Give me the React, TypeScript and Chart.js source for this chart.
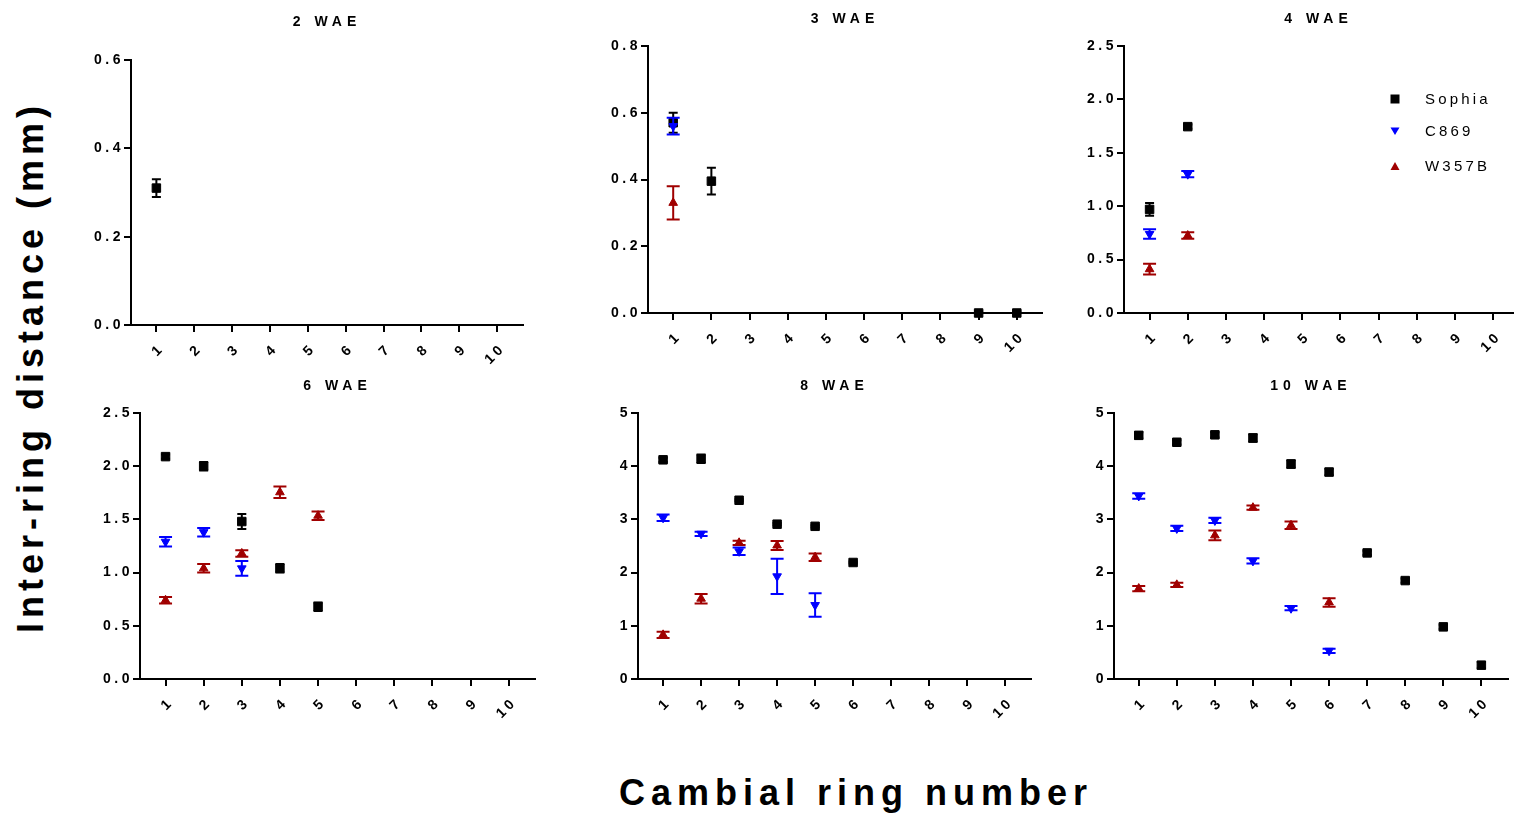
import React, { useEffect, useRef } from 'react';
import { Chart, registerables } from 'chart.js';

Chart.register(...registerables);

const N = null;

// x categories (cambial ring number) — also the x tick labels
const RINGS = ['1', '2', '3', '4', '5', '6', '7', '8', '9', '10'];
const SERIES = ['Sophia', 'C869', 'W357B'];

// y tick labels per panel
const Y_LABELS_2WAE = ['0.0', '0.2', '0.4', '0.6'];
const Y_LABELS_3WAE = ['0.0', '0.2', '0.4', '0.6', '0.8'];
const Y_LABELS_4WAE = ['0.0', '0.5', '1.0', '1.5', '2.0', '2.5'];
const Y_LABELS_6WAE = ['0.0', '0.5', '1.0', '1.5', '2.0', '2.5'];
const Y_LABELS_8WAE = ['0', '1', '2', '3', '4', '5'];
const Y_LABELS_10WAE = ['0', '1', '2', '3', '4', '5'];

// 2 WAE
const SOPHIA_2WAE = [0.31];
const SOPHIA_2WAE_ERR = [0.02];
const C869_2WAE: (number | null)[] = [];
const C869_2WAE_ERR: (number | null)[] = [];
const W357B_2WAE: (number | null)[] = [];
const W357B_2WAE_ERR: (number | null)[] = [];

// 3 WAE
const SOPHIA_3WAE = [0.57, 0.395, N, N, N, N, N, N, 0, 0];
const SOPHIA_3WAE_ERR = [0.03, 0.04, N, N, N, N, N, N, 0.005, 0.005];
const C869_3WAE = [0.56];
const C869_3WAE_ERR = [0.025];
const W357B_3WAE = [0.33];
const W357B_3WAE_ERR = [0.05];

// 4 WAE
const SOPHIA_4WAE = [0.97, 1.745];
const SOPHIA_4WAE_ERR = [0.06, 0.02];
const C869_4WAE = [0.74, 1.3];
const C869_4WAE_ERR = [0.045, 0.03];
const W357B_4WAE = [0.41, 0.725];
const W357B_4WAE_ERR = [0.05, 0.03];

// 6 WAE
const SOPHIA_6WAE = [2.09, 2.0, 1.48, 1.04, 0.68];
const SOPHIA_6WAE_ERR = [0.02, 0.04, 0.07, 0.04, 0.04];
const C869_6WAE = [1.29, 1.38, 1.04];
const C869_6WAE_ERR = [0.045, 0.04, 0.07];
const W357B_6WAE = [0.74, 1.04, 1.18, 1.755, 1.535];
const W357B_6WAE_ERR = [0.03, 0.04, 0.03, 0.055, 0.04];

// 8 WAE
const SOPHIA_8WAE = [4.12, 4.14, 3.36, 2.91, 2.87, 2.19];
const SOPHIA_8WAE_ERR = [0.04, 0.08, 0.02, 0.02, 0.02, 0.02];
const C869_8WAE = [3.03, 2.73, 2.4, 1.93, 1.39];
const C869_8WAE_ERR = [0.06, 0.04, 0.07, 0.33, 0.22];
const W357B_8WAE = [0.83, 1.51, 2.56, 2.51, 2.29];
const W357B_8WAE_ERR = [0.06, 0.09, 0.04, 0.085, 0.07];

// 10 WAE
const SOPHIA_10WAE = [4.58, 4.45, 4.59, 4.53, 4.04, 3.89, 2.37, 1.85, 0.98, 0.26];
const SOPHIA_10WAE_ERR = [0.06, 0.04, 0.05, 0.07, 0.07, 0.06, 0.04, 0.04, 0.04, 0.06];
const C869_10WAE = [3.44, 2.83, 2.98, 2.22, 1.33, 0.53];
const C869_10WAE_ERR = [0.05, 0.05, 0.05, 0.05, 0.04, 0.04];
const W357B_10WAE = [1.7, 1.77, 2.7, 3.22, 2.89, 1.44];
const W357B_10WAE_ERR = [0.05, 0.04, 0.09, 0.04, 0.07, 0.08];

const COLORS = ['#000000', '#0000ff', '#a00000'];
const FONT = '"Liberation Sans", Arial, Helvetica, sans-serif';

type PanelCfg = {
  title: string;
  yLabels: string[];
  series: [(number | null)[], (number | null)[]][];
  L: number; T: number; R: number; B: number; titleY: number;
  xMin: number; xMax: number;
  legend?: boolean;
};

const PANELS: PanelCfg[] = [
  { title: '2 WAE', yLabels: Y_LABELS_2WAE, series: [[SOPHIA_2WAE, SOPHIA_2WAE_ERR], [C869_2WAE, C869_2WAE_ERR], [W357B_2WAE, W357B_2WAE_ERR]],
    L: 131, T: 60, R: 529, B: 325, titleY: 22, xMin: 0.33, xMax: 10.68 },
  { title: '3 WAE', yLabels: Y_LABELS_3WAE, series: [[SOPHIA_3WAE, SOPHIA_3WAE_ERR], [C869_3WAE, C869_3WAE_ERR], [W357B_3WAE, W357B_3WAE_ERR]],
    L: 648, T: 46, R: 1048, B: 313, titleY: 19.5, xMin: 0.34, xMax: 10.66 },
  { title: '4 WAE', yLabels: Y_LABELS_4WAE, series: [[SOPHIA_4WAE, SOPHIA_4WAE_ERR], [C869_4WAE, C869_4WAE_ERR], [W357B_4WAE, W357B_4WAE_ERR]],
    L: 1124, T: 46, R: 1519, B: 313, titleY: 19.5, xMin: 0.33, xMax: 10.52, legend: true },
  { title: '6 WAE', yLabels: Y_LABELS_6WAE, series: [[SOPHIA_6WAE, SOPHIA_6WAE_ERR], [C869_6WAE, C869_6WAE_ERR], [W357B_6WAE, W357B_6WAE_ERR]],
    L: 140, T: 413, R: 541, B: 679, titleY: 386.5, xMin: 0.33, xMax: 10.69 },
  { title: '8 WAE', yLabels: Y_LABELS_8WAE, series: [[SOPHIA_8WAE, SOPHIA_8WAE_ERR], [C869_8WAE, C869_8WAE_ERR], [W357B_8WAE, W357B_8WAE_ERR]],
    L: 638, T: 413, R: 1037, B: 679, titleY: 386.5, xMin: 0.34, xMax: 10.68 },
  { title: '10 WAE', yLabels: Y_LABELS_10WAE, series: [[SOPHIA_10WAE, SOPHIA_10WAE_ERR], [C869_10WAE, C869_10WAE_ERR], [W357B_10WAE, W357B_10WAE_ERR]],
    L: 1114, T: 413, R: 1514, B: 679, titleY: 386.5, xMin: 0.35, xMax: 10.7 },
];

const WY = 70; // y axis box width
const HX = 50; // x axis box height
const PT = 48; // top padding (title room)
const PR = 1;

const CAP_HALF = [4.5, 6.5, 6.5];

function drawMarker(ctx: CanvasRenderingContext2D, k: number, x: number, y: number) {
  ctx.fillStyle = COLORS[k];
  ctx.beginPath();
  if (k === 0) {
    ctx.rect(x - 4.5, y - 4.5, 9, 9);
  } else if (k === 1) {
    ctx.moveTo(x - 4.5, y - 3.5);
    ctx.lineTo(x + 4.5, y - 3.5);
    ctx.lineTo(x, y + 4);
    ctx.closePath();
  } else {
    ctx.moveTo(x - 4.5, y + 4);
    ctx.lineTo(x + 4.5, y + 4);
    ctx.lineTo(x, y - 4);
    ctx.closePath();
  }
  ctx.fill();
}

function Panel({ cfg }: { cfg: PanelCfg }) {
  const ref = useRef<HTMLCanvasElement>(null);
  const left = cfg.L - WY;
  const top = cfg.T - PT;
  const w = cfg.R - cfg.L + WY + PR;
  const h = cfg.B - cfg.T + PT + HX;

  useEffect(() => {
    const canvas = ref.current!;
    const yVals = cfg.yLabels.map(Number);
    const datasets = cfg.series.map(([vals, errs], k) => {
      const pts: any[] = [];
      vals.forEach((v, i) => {
        if (v !== null && v !== undefined) pts.push({ x: Number(RINGS[i]), y: v, e: errs[i] ?? 0 });
      });
      return {
        label: SERIES[k],
        data: pts,
        order: 3 - k,
        clip: false as any,
        showLine: false,
        backgroundColor: COLORS[k],
        borderColor: COLORS[k],
        pointBackgroundColor: COLORS[k],
        pointBorderColor: COLORS[k],
        pointBorderWidth: 1,
        pointStyle: k === 0 ? 'rect' : 'triangle',
        pointRotation: k === 1 ? 180 : 0,
        pointRadius: k === 0 ? 6 : 5,
      };
    });

    const errorBars = {
      id: 'errorBars',
      afterDatasetDraw(chart: any, args: any) {
        const ds = chart.data.datasets[args.index];
        const k = SERIES.indexOf(ds.label);
        const xs = chart.scales.x;
        const ys = chart.scales.y;
        const ctx = chart.ctx;
        ctx.save();
        ctx.strokeStyle = COLORS[k];
        ctx.lineWidth = 2;
        ds.data.forEach((p: any) => {
          if (!p.e) return;
          const x = xs.getPixelForValue(p.x);
          const y1 = ys.getPixelForValue(p.y + p.e);
          const y2 = ys.getPixelForValue(Math.max(0, p.y - p.e));
          const c = CAP_HALF[k];
          ctx.beginPath();
          ctx.moveTo(x, y1); ctx.lineTo(x, y2);
          ctx.moveTo(x - c, y1); ctx.lineTo(x + c, y1);
          ctx.moveTo(x - c, y2); ctx.lineTo(x + c, y2);
          ctx.stroke();
        });
        ctx.restore();
      },
    };

    const decor = {
      id: 'decor',
      beforeDraw(chart: any) {
        (chart.ctx as any).letterSpacing = '3.5px';
      },
      afterDraw(chart: any) {
        const ctx = chart.ctx;
        const ca = chart.chartArea;
        ctx.save();
        (ctx as any).letterSpacing = '5px';
        ctx.fillStyle = '#000';
        ctx.font = `bold 14px ${FONT}`;
        ctx.textAlign = 'center';
        ctx.textBaseline = 'middle';
        ctx.fillText(cfg.title, (ca.left + ca.right) / 2, cfg.titleY - top);
        if (cfg.legend) {
          const rows = [53, 85, 120];
          (ctx as any).letterSpacing = '3.2px';
          ctx.font = `15px ${FONT}`;
          ctx.textAlign = 'left';
          SERIES.forEach((name, k) => {
            const y = ca.top + rows[k];
            drawMarker(ctx, k, ca.left + 271, y);
            ctx.fillStyle = '#000';
            ctx.fillText(name, ca.left + 301, y + 1);
          });
        }
        ctx.restore();
      },
    };

    const tickFont = { family: FONT, size: 14, weight: 'bold' as const };
    const chart = new Chart(canvas, {
      type: 'scatter',
      data: { datasets: datasets as any },
      options: {
        responsive: false,
        animation: false,
        events: [],
        layout: { padding: { top: PT, left: 0, right: PR, bottom: 0 } },
        plugins: { legend: { display: false }, tooltip: { enabled: false }, title: { display: false } },
        scales: {
          x: {
            type: 'linear',
            min: cfg.xMin,
            max: cfg.xMax,
            afterBuildTicks: (s: any) => { s.ticks = RINGS.map((l) => ({ value: Number(l) })); },
            afterFit: (s: any) => { s.height = HX; s.paddingLeft = 0; s.paddingRight = 0; },
            grid: { display: true, drawOnChartArea: false, drawTicks: true, tickLength: 7, tickWidth: 2, tickColor: '#000', lineWidth: 2, color: '#000' },
            border: { display: true, color: '#000', width: 2 },
            ticks: {
              autoSkip: false, minRotation: 45, maxRotation: 45, padding: 8, labelOffset: 6, color: '#000', font: tickFont,
              callback: (_v: any, i: number) => RINGS[i],
            },
          },
          y: {
            type: 'linear',
            min: 0,
            max: yVals[yVals.length - 1],
            afterBuildTicks: (s: any) => { s.ticks = yVals.map((v) => ({ value: v })); },
            afterFit: (s: any) => { s.width = WY; s.paddingTop = 0; s.paddingBottom = 0; },
            grid: { display: true, drawOnChartArea: false, drawTicks: true, tickLength: 7, tickWidth: 2, tickColor: '#000', lineWidth: 2, color: '#000' },
            border: { display: true, color: '#000', width: 2 },
            ticks: {
              autoSkip: false, padding: 0, color: '#000', font: tickFont,
              callback: (_v: any, i: number) => cfg.yLabels[i],
            },
          },
        },
      } as any,
      plugins: [errorBars, decor],
    });
    return () => chart.destroy();
  }, []);

  return (
    <canvas
      ref={ref}
      width={w}
      height={h}
      style={{ position: 'absolute', left, top, width: w, height: h }}
    />
  );
}

export default function App() {
  return (
    <div style={{ position: 'fixed', left: 0, top: 0, width: 1520, height: 814, background: '#fff', overflow: 'hidden' }}>
      {PANELS.map((p) => <Panel key={p.title} cfg={p} />)}
      <div
        style={{
          position: 'absolute', left: 31, top: 367, transform: 'translate(-50%, -50%) rotate(-90deg)',
          whiteSpace: 'nowrap', fontFamily: FONT, fontWeight: 'bold', fontSize: 36, letterSpacing: 5, color: '#000', lineHeight: 1,
        }}
      >
        Inter-ring distance (mm)
      </div>
      <div
        style={{
          position: 'absolute', left: 856, top: 793, transform: 'translate(-50%, -50%)',
          whiteSpace: 'nowrap', fontFamily: FONT, fontWeight: 'bold', fontSize: 36, letterSpacing: 6, color: '#000', lineHeight: 1,
        }}
      >
        Cambial ring number
      </div>
    </div>
  );
}
